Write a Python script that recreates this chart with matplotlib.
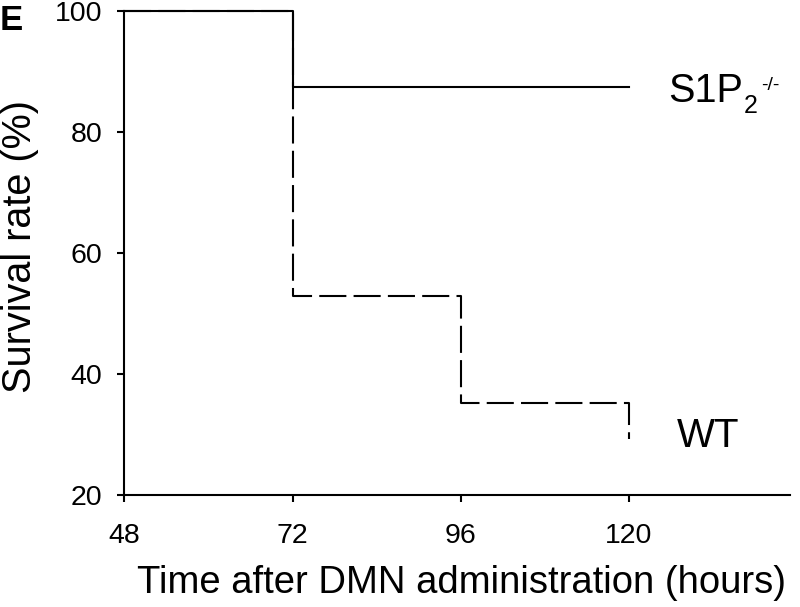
import matplotlib
matplotlib.use("Agg")
from matplotlib import pyplot as plt

plt.rcParams['font.family'] = ['Liberation Sans', 'DejaVu Sans']
plt.rcParams['lines.scale_dashes'] = False

# survival data (time in hours, survival %)
ko_time = [48, 72, 72, 120]
ko_surv = [100, 100, 87.5, 87.5]
wt_time = [48, 72, 72, 96, 96, 120, 120]
wt_surv = [100, 100, 52.9, 52.9, 35.3, 35.3, 29.4]

xticks = [48, 72, 96, 120]
yticks = [20, 40, 60, 80, 100]

fig = plt.figure(figsize=(8, 6.07), dpi=100)
ax = fig.add_axes([0.1556, 0.1837, 0.832, 0.7974])

ax.plot(wt_time, wt_surv, color='black', lw=1.5, linestyle=(0, (19.5, 5.2)), clip_on=False)
ax.plot(ko_time, ko_surv, color='black', lw=1.5, clip_on=False)

ax.set_xlim(48, 143)
ax.set_ylim(20, 100)
ax.set_xticks(xticks)
ax.set_yticks(yticks)
ax.tick_params(direction='out', length=5, width=1.5, labelsize=20.5)
ax.tick_params(axis='x', pad=15)
ax.tick_params(axis='y', pad=11)
for s in ['top', 'right']:
    ax.spines[s].set_visible(False)
for s in ['left', 'bottom']:
    ax.spines[s].set_linewidth(1.5)

ax.set_xlabel('Time after DMN administration (hours)', fontsize=27.5)
ax.set_ylabel('Survival rate (%)', fontsize=28.5)
ax.xaxis.set_label_coords(0.5056, -0.1436)
ax.yaxis.set_label_coords(-0.129, 0.514)

# group labels
ax.text(125.6, 85.0, 'S1P', fontsize=28.5, va='baseline', ha='left')
ax.annotate('2', xy=(125.6, 85.0), xytext=(76, -11), textcoords='offset pixels',
            fontsize=18, va='baseline', ha='left')
ax.annotate('-/-', xy=(125.6, 85.0), xytext=(93, 12), textcoords='offset pixels',
            fontsize=14, va='baseline', ha='left')
ax.text(126.85, 28.0, 'WT', fontsize=29, va='baseline', ha='left')

fig.text(0.0, 0.9506, 'E', fontsize=25, fontweight='bold', va='baseline', ha='left')

fig.savefig('out.png', dpi=100)
